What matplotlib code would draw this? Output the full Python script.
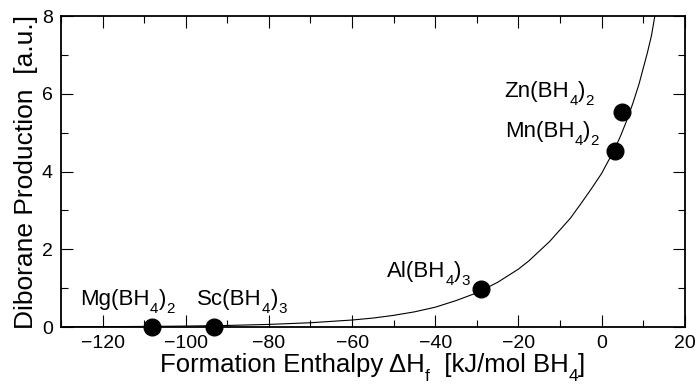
"""Diborane production vs formation enthalpy of borohydrides."""
import matplotlib
matplotlib.use("Agg")
import matplotlib.pyplot as plt
from matplotlib.ticker import MultipleLocator

plt.rcParams["font.family"] = ["Liberation Sans", "DejaVu Sans"]

# ── Data ────────────────────────────────────────────────────────────
# label pieces: (text, is_subscript)
compounds = [
    [("Mg(BH", 0), ("4", 1), (")", 0), ("2", 1)],
    [("Sc(BH", 0), ("4", 1), (")", 0), ("3", 1)],
    [("Al(BH", 0), ("4", 1), (")", 0), ("3", 1)],
    [("Mn(BH", 0), ("4", 1), (")", 0), ("2", 1)],
    [("Zn(BH", 0), ("4", 1), (")", 0), ("2", 1)],
]
enthalpy = [-108.2, -93.1, -29.1, 3.2, 4.8]
diborane = [0.0, 0.0, 0.97, 4.53, 5.53]

# label anchors (left edge, baseline) in data units
label_x = [-125.3, -97.2, -51.6, -23.3, -23.3]
label_y = [0.57, 0.57, 1.28, 4.89, 5.92]

# fitted curve
curve_x = [-130, -120, -110, -100, -90, -80, -70, -60, -55, -50, -45, -40, -35, -30,
           -25, -20, -17.5, -15, -12.5, -10, -7.5, -5, -2.5, 0, 1.5, 3, 4.5, 6, 7.5,
           9, 10, 11, 12, 12.8]
curve_y = [0.005, 0.009, 0.015, 0.024, 0.04, 0.067, 0.11, 0.18, 0.23, 0.30, 0.39, 0.51,
           0.68, 0.88, 1.15, 1.49, 1.70, 1.95, 2.20, 2.50, 2.80, 3.17, 3.55, 3.95, 4.25,
           4.55, 4.90, 5.30, 5.75, 6.25, 6.65, 7.05, 7.50, 8.0]

xlabel_parts = [("Formation Enthalpy \u0394H", 0), ("f", 1), ("  [kJ/mol BH", 0), ("4", 1), ("]", 0)]
ylabel_text = "Diborane Production  [a.u.]"

DPI = 100
fig = plt.figure(figsize=(6.98, 3.84), dpi=DPI)
ax = fig.add_axes([0.0874, 0.1484, 0.981 - 0.0874, 0.958 - 0.1484])
renderer = fig.canvas.get_renderer()


def draw_parts(parts, xy, xycoords, size, center=False, drop=0.36):
    """Draw text pieces side by side, subscripts smaller and lowered."""
    texts = []
    x_off = 0.0
    for s, sub in parts:
        fs = size * 0.68 if sub else size
        dy = -size * drop if sub else 0.0
        t = ax.annotate(s, xy=xy, xycoords=xycoords, xytext=(x_off, dy),
                        textcoords="offset points", fontsize=fs,
                        ha="left", va="baseline", annotation_clip=False)
        w = t.get_window_extent(renderer).width * 72.0 / DPI
        texts.append((t, x_off, dy))
        x_off += w
    if center:
        for t, xo, dy in texts:
            t.xyann = (xo - x_off / 2.0, dy)


ax.plot(curve_x, curve_y, color="black", linewidth=0.8, zorder=2)
ax.plot(enthalpy, diborane, "o", color="black", markersize=12, clip_on=False, zorder=4)

for parts, lx, ly in zip(compounds, label_x, label_y):
    draw_parts(parts, (lx, ly), "data", 16)

ax.set_xlim(-130, 20)
ax.set_ylim(0, 8)
ax.xaxis.set_major_locator(MultipleLocator(20))
ax.xaxis.set_minor_locator(MultipleLocator(10))
ax.yaxis.set_major_locator(MultipleLocator(2))
ax.yaxis.set_minor_locator(MultipleLocator(1))
ax.tick_params(which="both", direction="in", top=True, right=True, width=0.8)
ax.tick_params(which="major", length=8.5, labelsize=14, pad=6)
ax.tick_params(which="minor", length=5)
for sp in ax.spines.values():
    sp.set_linewidth(1.3)

# x label drawn piecewise so the subscripts sit low like the original
draw_parts(xlabel_parts, (0.5, -0.145), "axes fraction", 18.5, center=True, drop=0.34)
ax.set_ylabel(ylabel_text, fontsize=19, labelpad=3)

fig.savefig("out.png", dpi=DPI)
